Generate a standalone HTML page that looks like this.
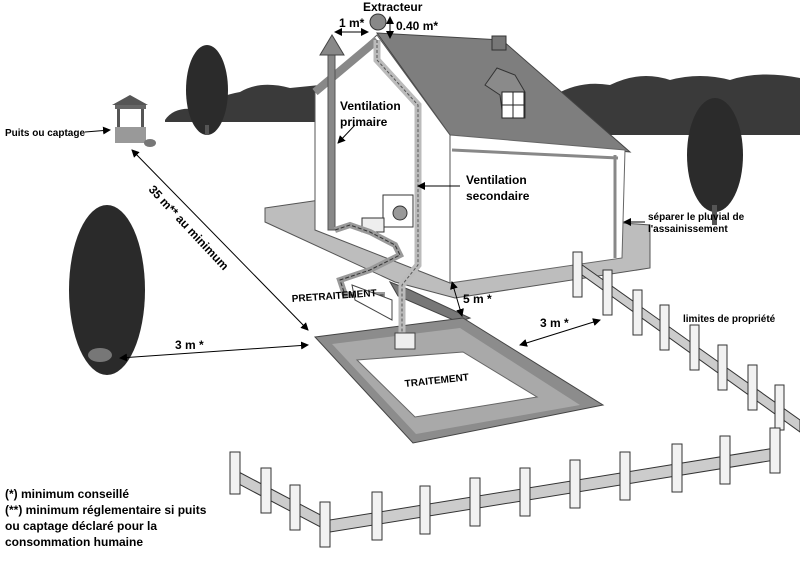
<!DOCTYPE html>
<html><head><meta charset="utf-8"><style>
body{margin:0;background:#fff}
svg{display:block}
text{font-family:"Liberation Sans",sans-serif;font-weight:bold;fill:#000}
</style></head><body>
<svg width="800" height="561" viewBox="0 0 800 561">
<defs>
<marker id="a" markerWidth="8" markerHeight="8" refX="7" refY="4" orient="auto-start-reverse"><path d="M0,0 L8,4 L0,8 Z" fill="#000"/></marker>
</defs>
<!-- background tree lines -->
<path d="M165,120 Q175,105 200,110 Q220,95 240,92 Q260,80 290,88 L320,85 L320,122 L165,122 Z" fill="#3a3a3a"/>
<path d="M555,95 Q580,80 610,85 Q640,70 670,80 Q700,72 730,80 Q760,70 800,78 L800,135 L600,135 Z" fill="#3a3a3a"/>
<!-- trees -->
<ellipse cx="207" cy="90" rx="21" ry="45" fill="#2b2b2b"/>
<rect x="205" y="125" width="4" height="10" fill="#555"/>
<ellipse cx="107" cy="290" rx="38" ry="85" fill="#2a2a2a"/>
<ellipse cx="100" cy="355" rx="12" ry="7" fill="#777"/>
<ellipse cx="715" cy="155" rx="28" ry="57" fill="#2b2b2b"/>
<rect x="712" y="205" width="5" height="20" fill="#555"/>
<!-- well -->
<path d="M112,105 L130,95 L148,105 Z" fill="#555"/>
<rect x="115" y="105" width="31" height="4" fill="#666"/>
<rect x="117" y="109" width="3" height="18" fill="#555"/><rect x="141" y="109" width="3" height="18" fill="#555"/>
<rect x="115" y="127" width="31" height="16" fill="#999"/>
<ellipse cx="150" cy="143" rx="6" ry="4" fill="#777"/>
<!-- ground slab around house -->
<path d="M265,208 L320,200 L650,225 L650,268 L455,298 L395,282 L265,222 Z" fill="#bdbdbd" stroke="#555" stroke-width="1"/>
<!-- roof -->
<path d="M377,33 L502,40 L630,152 L450,135 Z" fill="#7e7e7e" stroke="#444"/>
<rect x="492" y="36" width="14" height="14" fill="#777" stroke="#333"/>
<path d="M485,85 L497,68 L515,75 L525,92 L525,118 L503,118 L500,95 Z" fill="#8a8a8a" stroke="#333"/>
<rect x="502" y="92" width="22" height="26" fill="#fff" stroke="#222"/>
<line x1="513" y1="92" x2="513" y2="118" stroke="#222"/><line x1="502" y1="105" x2="524" y2="105" stroke="#222"/>
<!-- side wall -->
<path d="M450,135 L625,150 L622,258 L450,283 Z" fill="#fff" stroke="#666"/>
<path d="M452,150 L618,158" stroke="#888" stroke-width="3"/>
<line x1="615" y1="155" x2="615" y2="258" stroke="#888" stroke-width="3"/>
<!-- gable wall -->
<path d="M377,35 L450,135 L450,283 L315,230 L315,92 Z" fill="#fff" stroke="#555"/>
<!-- vent primaire -->
<path d="M315,92 L377,40" stroke="#888" stroke-width="8"/>
<rect x="328" y="55" width="7" height="175" fill="#888" stroke="#555"/>
<path d="M320,55 L332,35 L344,55 Z" fill="#888" stroke="#444"/>
<!-- trench wall strip from house -->
<path d="M390,282 L410,290 L470,318 L458,322 L398,296 Z" fill="#777" stroke="#444"/>
<!-- trench -->
<path d="M315,337 L463,318 L603,405 L413,443 Z" fill="#8c8c8c" stroke="#444"/>
<path d="M332,344 L460,328 L580,405 L416,434 Z" fill="#a9a9a9"/>
<path d="M357,360 L463,352 L537,397 L415,417 Z" fill="#fff" stroke="#666"/>
<!-- vent secondaire -->
<path d="M377,40 L377,60 L418,105 L418,265 L402,285 L402,335" fill="none" stroke="#bbb" stroke-width="7"/>
<path d="M377,40 L377,60 L418,105 L418,265 L402,285 L402,335" fill="none" stroke="#555" stroke-width="1" stroke-dasharray="3,2"/>
<circle cx="378" cy="22" r="8" fill="#888" stroke="#333"/>
<!-- washer -->
<rect x="383" y="195" width="30" height="32" fill="#fff" stroke="#333"/>
<circle cx="400" cy="213" r="7" fill="#999" stroke="#333"/>
<rect x="362" y="218" width="22" height="14" fill="#eee" stroke="#333"/>
<!-- pipes -->
<path d="M335,230 L350,225 L370,232 L395,245 L400,255 L370,270 L340,280 L345,295 L385,295" fill="none" stroke="#999" stroke-width="6"/>
<path d="M335,230 L350,225 L370,232 L395,245 L400,255 L370,270 L340,280 L345,295 L385,295" fill="none" stroke="#333" stroke-width="1" stroke-dasharray="4,2"/>
<path d="M352,285 L392,300 L392,320 L355,300 Z" fill="#fff" stroke="#444"/>
<rect x="395" y="333" width="20" height="16" fill="#eee" stroke="#444"/>
<text x="405" y="387" font-size="10" transform="rotate(-6 405 387)">TRAITEMENT</text>
<text x="292" y="302" font-size="10" transform="rotate(-4 292 302)">PRETRAITEMENT</text>
<!-- back fence -->
<g fill="#f2f2f2" stroke="#333">
<path d="M578,262 L800,420 L800,432 L578,272 Z" fill="#ccc"/>
<rect x="573" y="252" width="9" height="45"/><rect x="603" y="270" width="9" height="45"/><rect x="633" y="290" width="9" height="45"/>
<rect x="660" y="305" width="9" height="45"/><rect x="690" y="325" width="9" height="45"/><rect x="718" y="345" width="9" height="45"/>
<rect x="748" y="365" width="9" height="45"/><rect x="775" y="385" width="9" height="45"/>
<!-- front fence -->
<path d="M235,470 L330,520 L775,448 L775,460 L330,532 L235,482 Z" fill="#ccc"/>
<rect x="230" y="452" width="10" height="42"/><rect x="261" y="468" width="10" height="45"/><rect x="290" y="485" width="10" height="45"/>
<rect x="320" y="502" width="10" height="45"/><rect x="372" y="492" width="10" height="48"/><rect x="420" y="486" width="10" height="48"/>
<rect x="470" y="478" width="10" height="48"/><rect x="520" y="468" width="10" height="48"/><rect x="570" y="460" width="10" height="48"/>
<rect x="620" y="452" width="10" height="48"/><rect x="672" y="444" width="10" height="48"/><rect x="720" y="436" width="10" height="48"/>
<rect x="770" y="428" width="10" height="45"/>
</g>
<!-- dimension arrows -->
<g stroke="#000" stroke-width="1" fill="none">
<line x1="132" y1="150" x2="308" y2="330" marker-start="url(#a)" marker-end="url(#a)"/>
<line x1="120" y1="358" x2="308" y2="345" marker-start="url(#a)" marker-end="url(#a)"/>
<line x1="335" y1="32" x2="368" y2="32" marker-start="url(#a)" marker-end="url(#a)"/>
<line x1="390" y1="17" x2="390" y2="38" marker-start="url(#a)" marker-end="url(#a)"/>
<line x1="452" y1="282" x2="462" y2="316" marker-start="url(#a)" marker-end="url(#a)"/>
<line x1="520" y1="345" x2="600" y2="320" marker-start="url(#a)" marker-end="url(#a)"/>
<line x1="85" y1="132" x2="110" y2="130" marker-end="url(#a)"/>
<line x1="355" y1="125" x2="338" y2="143" marker-end="url(#a)"/>
<line x1="460" y1="186" x2="418" y2="186" marker-end="url(#a)"/>
<line x1="645" y1="222" x2="624" y2="222" marker-end="url(#a)"/>
</g>
<!-- labels -->
<text x="363" y="11" font-size="12">Extracteur</text>
<text x="339" y="27" font-size="12">1 m*</text>
<text x="396" y="30" font-size="12">0.40 m*</text>
<text x="340" y="110" font-size="12">Ventilation</text>
<text x="340" y="126" font-size="12">primaire</text>
<text x="466" y="184" font-size="12">Ventilation</text>
<text x="466" y="200" font-size="12">secondaire</text>
<text x="5" y="136" font-size="10">Puits ou captage</text>
<text x="648" y="220" font-size="10">séparer le pluvial de</text>
<text x="648" y="232" font-size="10">l'assainissement</text>
<text x="683" y="322" font-size="10">limites de propriété</text>
<text x="463" y="303" font-size="12">5 m *</text>
<text x="540" y="327" font-size="12">3 m *</text>
<text x="175" y="349" font-size="12">3 m *</text>
<text x="148" y="190" font-size="12" transform="rotate(47 148 190)">35 m** au minimum</text>
<text x="5" y="498" font-size="12">(*) minimum conseillé</text>
<text x="5" y="514" font-size="12">(**) minimum réglementaire si puits</text>
<text x="5" y="530" font-size="12">ou captage déclaré pour la</text>
<text x="5" y="546" font-size="12">consommation humaine</text>
</svg>
</body></html>
